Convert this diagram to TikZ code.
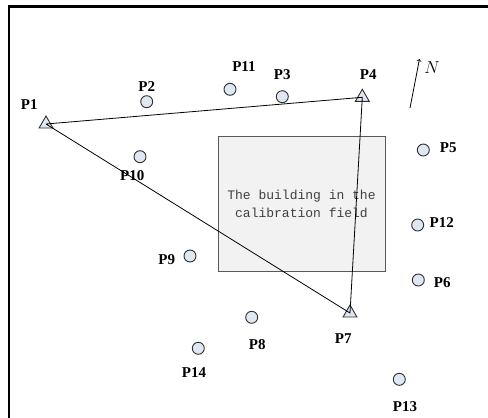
\documentclass[tikz,border=0pt]{standalone}
\usepackage{fontspec}
\setmainfont{Liberation Serif}
\newfontfamily\bmono{Liberation Mono}
\usetikzlibrary{shapes.geometric}
\definecolor{ptfill}{HTML}{DFE7F2}
\definecolor{ptline}{HTML}{303030}
\definecolor{bldfill}{HTML}{F2F2F2}
\definecolor{bldline}{HTML}{595959}
\definecolor{bldtext}{HTML}{404040}
\tikzset{
  pt/.style={circle, draw=ptline, fill=ptfill, line width=0.9pt, minimum size=12pt, inner sep=0pt},
  tri/.style={regular polygon, regular polygon sides=3, draw=ptline, fill=ptfill, line width=0.9pt, minimum size=16pt, inner sep=0pt},
  lbl/.style={font=\fontsize{15}{17}\selectfont\bfseries, inner sep=0pt},
  frameline/.style={line width=2.4pt, black},
  link/.style={line width=0.8pt, black},
}
\begin{document}
\begin{tikzpicture}[x=1pt,y=-1pt]
\useasboundingbox (0,0) rectangle (488,418);
\fill[white] (0,0) rectangle (488,418);
% frame
\coordinate (fa) at (9,6.5);
\coordinate (fb) at (488,6.5);
\coordinate (fc) at (9,418);
\draw[frameline] (fb) -- (fa) -- (fc);
% building
\node[draw=bldline, fill=bldfill, line width=0.9pt, minimum width=167pt, minimum height=135pt, inner sep=0pt,
      font=\bmono\fontsize{13}{18}\selectfont, text=bldtext, align=center] (bld) at (301.5,204)
      {The building in the\\calibration field};
% triangles
\node[tri] (P1) at (46,124) {};
\node[tri] (P4) at (362.3,97.3) {};
\node[tri] (P7) at (350,313) {};
% circles
\node[pt] (P2) at (146.7,101.7) {};
\node[pt] (P11) at (230,89.3) {};
\node[pt] (P3) at (282.3,96.7) {};
\node[pt] (P5) at (423.3,150) {};
\node[pt] (P10) at (140,156.7) {};
\node[pt] (P9) at (190,256) {};
\node[pt] (P14) at (198.3,348.3) {};
\node[pt] (P8) at (251.7,317.3) {};
\node[pt] (P12) at (417.7,225) {};
\node[pt] (P6) at (418.3,280) {};
\node[pt] (P13) at (399.3,379.3) {};
% connectors
\draw[link] (P1.center) -- (P4.center) -- (P7.center) -- (P1.center);
% labels
\node[lbl] (L1) at (29.3,105) {P1};
\node[lbl] (L2) at (146.7,87) {P2};
\node[lbl] (L11) at (244,67) {P11};
\node[lbl] (L3) at (282.3,75) {P3};
\node[lbl] (L4) at (368.3,75) {P4};
\node[lbl] (L5) at (448.3,147.7) {P5};
\node[lbl] (L10) at (132.3,176) {P10};
\node[lbl] (L9) at (166.7,260) {P9};
\node[lbl] (L14) at (194,372.7) {P14};
\node[lbl] (L8) at (257.3,345) {P8};
\node[lbl] (L7) at (343.3,338.3) {P7};
\node[lbl] (L12) at (441.7,222.3) {P12};
\node[lbl] (L6) at (442.3,282.7) {P6};
\node[lbl] (L13) at (405,406.7) {P13};
% north arrow
\coordinate (ns) at (410,108);
\coordinate (ne) at (419.5,59);
\draw[line width=0.8pt, ->, >=to] (ns) -- (ne);
\node[font=\fontsize{18}{20}\selectfont, inner sep=0pt] (N) at (432,68) {$N$};
\end{tikzpicture}
\end{document}
